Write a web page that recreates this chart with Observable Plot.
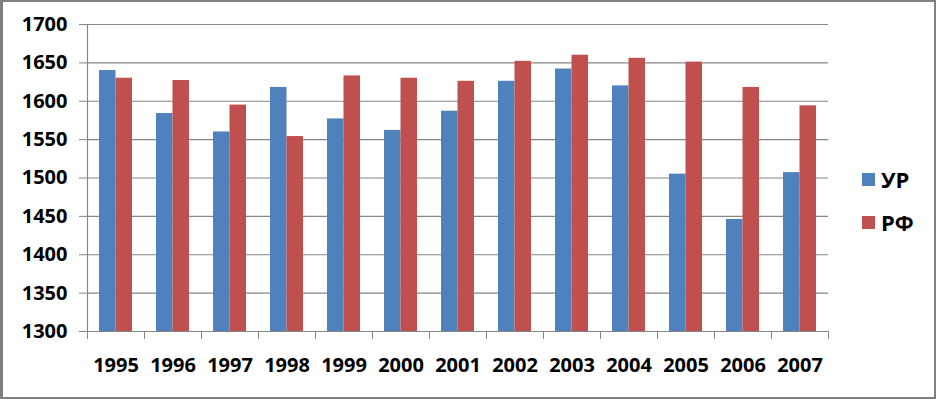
<!DOCTYPE html>
<html>
<head>
<meta charset="utf-8">
<script src="https://cdn.jsdelivr.net/npm/d3@7"></script>
<script src="https://cdn.jsdelivr.net/npm/@observablehq/plot@0.6"></script>
<style>
  html, body { margin: 0; padding: 0; background: #fff; }
  #wrap { position: relative; width: 936px; height: 399px; overflow: hidden; font-family: "Open Sans", sans-serif; }
  #wrap svg { position: absolute; left: 0; top: 0; }
  #border { position: absolute; left: 0; top: 0; width: 936px; height: 399px; box-sizing: border-box;
    border-top: 2px solid #808080; border-right: 2px solid #808080; border-bottom: 2px solid #808080; border-left: 3px solid #808080; pointer-events: none; }
  .leg { position: absolute; left: 862px; display: flex; align-items: center; font-weight: bold; font-size: 22px; color: #000; line-height: 26px; }
  .leg span.sw { display: inline-block; width: 13px; height: 13px; margin-right: 6px; }
</style>
</head>
<body>
<div id="wrap"></div>
<script>
const years = [1995, 1996, 1997, 1998, 1999, 2000, 2001, 2002, 2003, 2004, 2005, 2006, 2007];
const ur = [1640, 1584, 1560, 1618, 1577, 1562, 1587, 1626, 1642, 1620, 1505, 1446, 1507];
const rf = [1630, 1627, 1595, 1554, 1633, 1630, 1626, 1652, 1660, 1656, 1651, 1618, 1594];
const seriesNames = ["УР", "РФ"];
const colors = ["#4f81bd", "#c0504d"];
const yTicks = [1300, 1350, 1400, 1450, 1500, 1550, 1600, 1650, 1700];

const table = years.map((y, i) => ({year: String(y), ur: ur[i], rf: rf[i]}));

const W = 936, H = 399, mL = 87, mR = 108, mT = 24, mB = 68;
const step = (W - mL - mR) / years.length;
const grid = "#868686";

const chart = Plot.plot({
  width: W, height: H,
  marginLeft: mL, marginRight: mR, marginTop: mT, marginBottom: mB,
  style: {fontFamily: "Open Sans, sans-serif", fontWeight: "bold", background: "white", color: "black"},
  x: {domain: years.map(String), paddingInner: 0.42, paddingOuter: 0.21, label: null},
  y: {domain: [1300, 1700], label: null},
  marks: [
    Plot.ruleY(yTicks, {stroke: grid, strokeWidth: 1.2}),
    Plot.barY(table, {x: "year", y1: 1300, y2: "ur", fill: colors[0], insetRight: 16.5}),
    Plot.barY(table, {x: "year", y1: 1300, y2: "rf", fill: colors[1], insetLeft: 16.5}),
    Plot.frame({anchor: "left", stroke: grid, strokeWidth: 1.2}),
    Plot.axisY({ticks: yTicks, tickFormat: d => String(d), tickSize: 8, tickPadding: 12, fontSize: 20, fontWeight: "bold", stroke: grid, fill: "black", label: null}),
    Plot.axisX({tickSize: 8, tickFormat: () => "", dx: -step / 2, stroke: grid, label: null}),
    Plot.axisX({tickSize: 8, tickFormat: () => "", dx: step / 2, stroke: grid, label: null}),
    Plot.axisX({tickSize: 0, tickPadding: 26, fontSize: 20, fontWeight: "bold", fill: "black", label: null}),
    Plot.ruleY([1300], {stroke: grid, strokeWidth: 1.2})
  ]
});

const wrap = document.getElementById("wrap");
wrap.appendChild(chart);

const legTops = [166, 209];
seriesNames.forEach((name, i) => {
  const d = document.createElement("div");
  d.className = "leg";
  d.style.top = legTops[i] + "px";
  const sw = document.createElement("span");
  sw.className = "sw";
  sw.style.background = colors[i];
  d.appendChild(sw);
  d.appendChild(document.createTextNode(name));
  wrap.appendChild(d);
});

const b = document.createElement("div");
b.id = "border";
wrap.appendChild(b);
</script>
</body>
</html>
